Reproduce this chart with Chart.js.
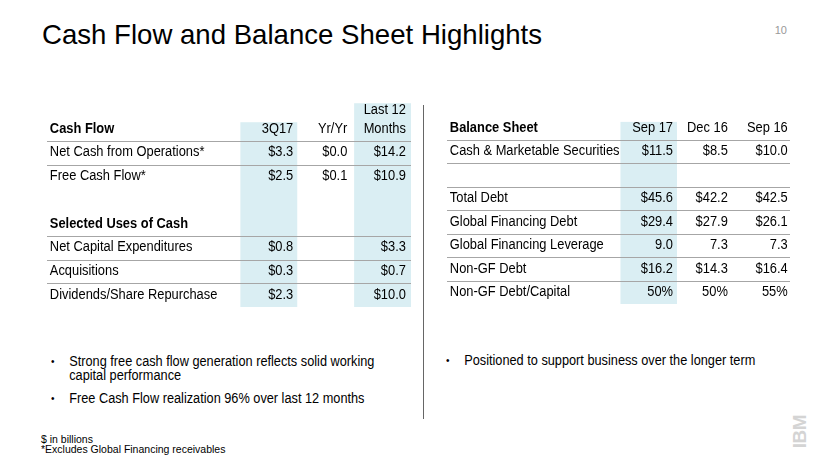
<!DOCTYPE html>
<html>
<head>
<meta charset="utf-8">
<script src="https://cdn.jsdelivr.net/npm/chart.js@4.4.1/dist/chart.umd.min.js"></script>
<style>
body { margin: 0; width: 830px; height: 467px; background: #fff; position: relative; overflow: hidden;
  font-family: "Liberation Sans", Arial, sans-serif; color: #000; }
.abs { position: absolute; }
.title { left: 42px; top: 21px; font-size: 27.6px; line-height: 28px; white-space: nowrap; }
.pageno { right: 43px; top: 25px; font-size: 11px; line-height: 11px; color: #999; }
.divider { left: 423px; top: 105px; width: 1px; height: 314px; background: #666; }
.bullets { margin: 0; padding: 0; list-style: none; font-size: 14px; line-height: 14px;
  transform: scaleX(0.91); transform-origin: 0 0; }
.bullets li { position: relative; padding-left: 20px; margin-bottom: 9px; }
.bullets li:before { content: "\2022"; position: absolute; left: 0; font-size: 11px; }
.foot { left: 41px; top: 434px; font-size: 10.5px; line-height: 10px; }
.logo { left: 782px; top: 422px; width: 34px; font-size: 19px; line-height: 19px; font-weight: bold;
  color: #d4d4d4; transform: rotate(-90deg); letter-spacing: -0.5px; text-align: center; }
</style>
</head>
<body>
<div class="abs title">Cash Flow and Balance Sheet Highlights</div>
<div class="abs pageno">10</div>

<canvas id="cf" class="abs" width="384" height="227" style="left:37px;top:95px"></canvas>
<div class="abs divider"></div>
<canvas id="bs" class="abs" width="363" height="225" style="left:437px;top:95px"></canvas>

<ul class="abs bullets" style="left:51px;top:354px;width:365px">
  <li>Strong free cash flow generation reflects solid working capital performance</li>
  <li>Free Cash Flow realization 96% over last 12 months</li>
</ul>
<ul class="abs bullets" style="left:446px;top:353px;width:380px">
  <li>Positioned to support business over the longer term</li>
</ul>

<div class="abs foot">$ in billions<br>*Excludes Global Financing receivables</div>
<div class="abs logo">IBM</div>

<script>
// ---- 现金流表 数据 ----
var cfHeads = ['Cash Flow', '3Q17', 'Yr/Yr', 'Last 12\nMonths'];
var cfRows = ['Net Cash from Operations*', 'Free Cash Flow*', '', 'Selected Uses of Cash',
  'Net Capital Expenditures', 'Acquisitions', 'Dividends/Share Repurchase'];
var cfSubheads = ['Selected Uses of Cash'];
var cf3Q17 = [3.3, 2.5, null, null, 0.8, 0.3, 2.3];
var cfYrYr = [0.0, 0.1, null, null, null, null, null];
var cfLTM = [14.2, 10.9, null, null, 3.3, 0.7, 10.0];
var cfFormats = ['$', '$', '', '', '$', '$', '$'];

// ---- 资产负债表 数据 ----
var bsHeads = ['Balance Sheet', 'Sep 17', 'Dec 16', 'Sep 16'];
var bsRows = ['Cash & Marketable Securities', '', 'Total Debt', 'Global Financing Debt',
  'Global Financing Leverage', 'Non-GF Debt', 'Non-GF Debt/Capital'];
var bsSep17 = [11.5, null, 45.6, 29.4, 9.0, 16.2, 50];
var bsDec16 = [8.5, null, 42.2, 27.9, 7.3, 14.3, 50];
var bsSep16 = [10.0, null, 42.5, 26.1, 7.3, 16.4, 55];
var bsFormats = ['$', '', '$', '$', 'x', '$', '%'];

var FAMILY = '"Liberation Sans", Arial, sans-serif';
Chart.defaults.font.family = FAMILY;

function fmt(v, kind) {
  if (kind === '$') return '$' + v.toFixed(1);
  if (kind === '%') return v + '%';
  return v.toFixed(1);
}

/**
 * 把表格转成散点: 每个单元格一个点, x=列, y=行
 */
function buildCells(heads, rows, cols, fmts, subheads, labelUnits, insets) {
  var sets = [];
  var lab = [{x: 0.05, y: 0, t: heads[0], b: true}];
  rows.forEach(function (r, i) {
    if (r) lab.push({x: 0.05, y: i + 1, t: r, b: subheads.indexOf(r) >= 0});
  });
  sets.push({data: lab, align: 'left'});
  cols.forEach(function (vals, c) {
    var x = labelUnits + c + 1 - insets[c];
    var pts = [{x: x, y: 0, t: heads[c + 1]}];
    vals.forEach(function (v, i) {
      if (v !== null) pts.push({x: x, y: i + 1, t: fmt(v, fmts[i])});
    });
    sets.push({data: pts, align: 'right'});
  });
  sets.forEach(function (s) { s.pointRadius = 0; s.showLine = false; });
  return sets;
}

// 画底色列、分隔线、单元格文字
var tablePlugin = {
  id: 'tableCells',
  beforeDatasetsDraw: function (chart, args, opts) {
    var ctx = chart.ctx, xs = chart.scales.x, ys = chart.scales.y, area = chart.chartArea;
    ctx.save();
    ctx.fillStyle = opts.shade;
    opts.shadeCols.forEach(function (s) {
      var x0 = xs.getPixelForValue(opts.labelUnits + s.col - 1);
      var x1 = xs.getPixelForValue(opts.labelUnits + s.col);
      var y0 = ys.getPixelForValue(s.top);
      var y1 = ys.getPixelForValue(ys.max);
      ctx.fillRect(x0, y0, x1 - x0, y1 - y0);
    });
    ctx.strokeStyle = opts.rule;
    ctx.lineWidth = 1;
    opts.rulesAfter.forEach(function (r) {
      var y = Math.round(ys.getPixelForValue(r + 0.5)) + 0.5;
      ctx.beginPath();
      ctx.moveTo(area.left, y);
      ctx.lineTo(area.right, y);
      ctx.stroke();
    });
    ctx.restore();
  },
  afterDatasetsDraw: function (chart, args, opts) {
    var ctx = chart.ctx;
    chart.data.datasets.forEach(function (ds, di) {
      var meta = chart.getDatasetMeta(di);
      meta.data.forEach(function (pt, j) {
        var cell = ds.data[j];
        var lines = cell.t.split('\n');
        lines.forEach(function (ln, k) {
          // 原稿字体偏窄, 横向压一点
          ctx.save();
          ctx.translate(pt.x, pt.y - (lines.length - 1 - k) * opts.lineGap);
          ctx.scale(opts.squeeze, 1);
          ctx.font = (cell.b ? 'bold ' : '') + opts.fontSize + 'px ' + FAMILY;
          ctx.textAlign = ds.align;
          ctx.textBaseline = 'middle';
          ctx.fillStyle = '#000';
          ctx.fillText(ln, 0, 0);
          ctx.restore();
        });
      });
    });
  }
};

function makeTable(id, datasets, labelUnits, padding, extra) {
  return new Chart(document.getElementById(id), {
    type: 'scatter',
    data: {datasets: datasets},
    plugins: [tablePlugin],
    options: {
      responsive: false,
      animation: false,
      events: [],
      layout: {padding: padding},
      scales: {
        x: {type: 'linear', min: 0, max: labelUnits + 3, display: false},
        y: {type: 'linear', min: -0.5, max: 7.5, reverse: true, display: false}
      },
      plugins: {
        legend: {display: false},
        tooltip: {enabled: false},
        tableCells: Object.assign({
          labelUnits: labelUnits,
          shade: '#daeef3',
          rule: '#a6a6a6',
          fontSize: 14,
          squeeze: 0.92,
          lineGap: 19
        }, extra)
      }
    }
  });
}

var CF_UNITS = 3.4, BS_UNITS = 3.07;

makeTable('cf',
  buildCells(cfHeads, cfRows, [cf3Q17, cfYrYr, cfLTM], cfFormats, cfSubheads, CF_UNITS, [0.07, 0.12, 0.09]),
  CF_UNITS, {left: 10, right: 10, top: 22, bottom: 15},
  {shadeCols: [{col: 1, top: -0.28}, {col: 3, top: -1.08}], rulesAfter: [0, 1, 4, 5, 6]});

makeTable('bs',
  buildCells(bsHeads, bsRows, [bsSep17, bsDec16, bsSep16], bsFormats, [], BS_UNITS, [0.07, 0.1, 0.04]),
  BS_UNITS, {left: 10, right: 10, top: 21, bottom: 16},
  {shadeCols: [{col: 1, top: -0.25}], rulesAfter: [0, 1, 2, 3, 4, 5, 6]});
</script>
</body>
</html>
